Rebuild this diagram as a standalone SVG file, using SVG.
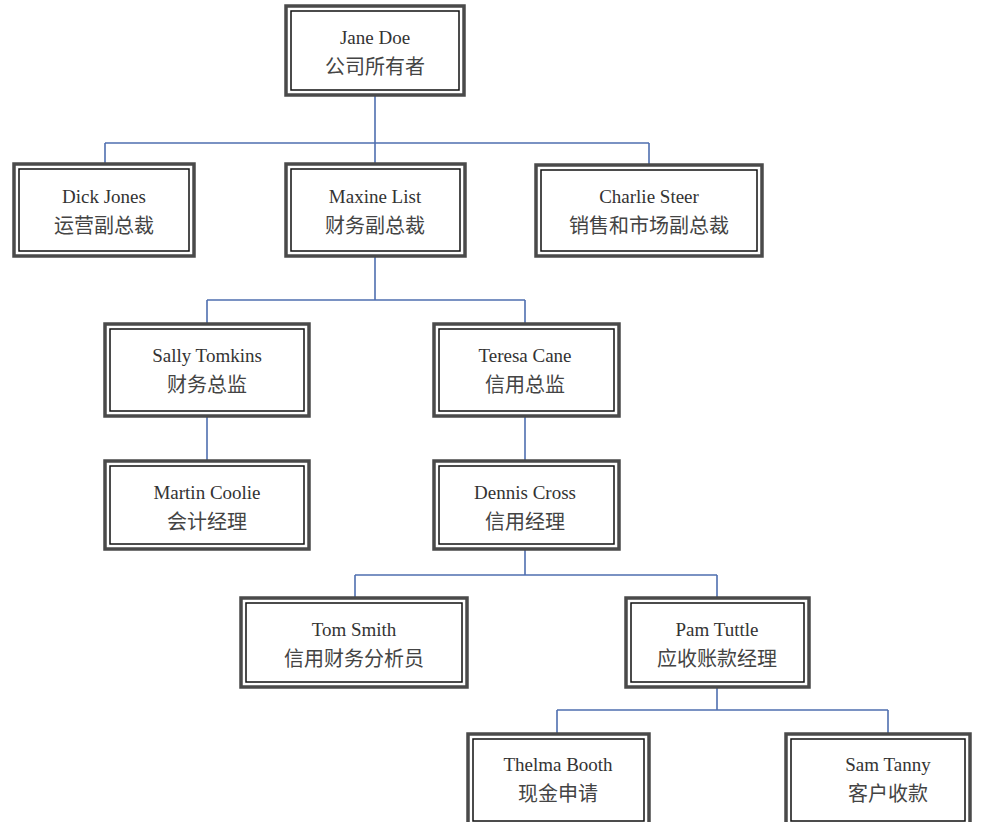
<svg xmlns="http://www.w3.org/2000/svg" width="981" height="822" viewBox="0 0 981 822">
<style>
.o{fill:#fff;stroke:#4a4a4a;stroke-width:3.5}
.i{fill:none;stroke:#111;stroke-width:1.5}
.t{font-family:"Liberation Serif","Noto Sans CJK SC",serif;font-size:19px;fill:#333;text-anchor:middle}
.c{font-family:"Liberation Serif","Noto Sans CJK SC",serif;font-size:20px;fill:#444;text-anchor:middle}
#connectors path{fill:none;stroke:#4f6fb0;stroke-width:1.6}
</style>
<rect width="981" height="822" fill="#fff"/>
<g id="connectors">
<path d="M375 96V143M105 143H649M105 143V163M375 143V163M649 143V164"/>
<path d="M375 257V300M207 300H525M207 300V323M525 300V323"/>
<path d="M207 417V460M525 417V460"/>
<path d="M525 550V575M355 575H717M355 575V597M717 575V597"/>
<path d="M717 688V710M557 710H888M557 710V733M888 710V733"/>
</g>
<g id="jane"><rect class="o" x="286" y="6" width="178" height="89"/><rect class="i" x="291" y="11" width="168" height="79"/><text class="t" x="375" y="44">Jane Doe</text><text class="c" x="375" y="74">公司所有者</text></g>
<g id="dick"><rect class="o" x="14" y="164" width="180" height="92"/><rect class="i" x="19" y="169" width="170" height="82"/><text class="t" x="104" y="203">Dick Jones</text><text class="c" x="104" y="233">运营副总裁</text></g>
<g id="maxine"><rect class="o" x="286" y="164" width="179" height="92"/><rect class="i" x="291" y="169" width="169" height="82"/><text class="t" x="375" y="203">Maxine List</text><text class="c" x="375" y="233">财务副总裁</text></g>
<g id="charlie"><rect class="o" x="536" y="165" width="226" height="91"/><rect class="i" x="541" y="170" width="216" height="81"/><text class="t" x="649" y="203">Charlie Steer</text><text class="c" x="649" y="233">销售和市场副总裁</text></g>
<g id="sally"><rect class="o" x="105" y="324" width="204" height="92"/><rect class="i" x="110" y="329" width="194" height="82"/><text class="t" x="207" y="362">Sally Tomkins</text><text class="c" x="207" y="392">财务总监</text></g>
<g id="teresa"><rect class="o" x="434" y="324" width="185" height="92"/><rect class="i" x="439" y="329" width="175" height="82"/><text class="t" x="525" y="362">Teresa Cane</text><text class="c" x="525" y="392">信用总监</text></g>
<g id="martin"><rect class="o" x="105" y="461" width="204" height="88"/><rect class="i" x="110" y="466" width="194" height="78"/><text class="t" x="207" y="499">Martin Coolie</text><text class="c" x="207" y="529">会计经理</text></g>
<g id="dennis"><rect class="o" x="434" y="461" width="185" height="88"/><rect class="i" x="439" y="466" width="175" height="78"/><text class="t" x="525" y="499">Dennis Cross</text><text class="c" x="525" y="529">信用经理</text></g>
<g id="tom"><rect class="o" x="241" y="598" width="226" height="89"/><rect class="i" x="246" y="603" width="216" height="79"/><text class="t" x="354" y="636">Tom Smith</text><text class="c" x="354" y="666">信用财务分析员</text></g>
<g id="pam"><rect class="o" x="626" y="598" width="183" height="89"/><rect class="i" x="631" y="603" width="173" height="79"/><text class="t" x="717" y="636">Pam Tuttle</text><text class="c" x="717" y="666">应收账款经理</text></g>
<g id="thelma"><rect class="o" x="468" y="734" width="181" height="92"/><rect class="i" x="473" y="739" width="171" height="82"/><text class="t" x="558" y="771">Thelma Booth</text><text class="c" x="558" y="801">现金申请</text></g>
<g id="sam"><rect class="o" x="786" y="734" width="184" height="92"/><rect class="i" x="791" y="739" width="174" height="82"/><text class="t" x="888" y="771">Sam Tanny</text><text class="c" x="888" y="801">客户收款</text></g>
</svg>
